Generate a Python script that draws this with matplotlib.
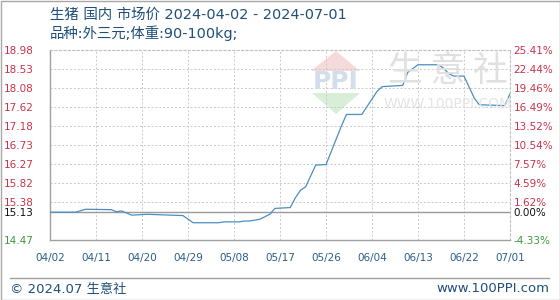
import matplotlib
matplotlib.use("Agg")
import matplotlib.pyplot as plt
from matplotlib.patches import Polygon, Rectangle
from matplotlib.lines import Line2D
import pandas as pd

# ---------------- data ----------------
dates = ["2024-04-02", "2024-04-07", "2024-04-09", "2024-04-14", "2024-04-15",
         "2024-04-16", "2024-04-18", "2024-04-21", "2024-04-28", "2024-04-30",
         "2024-05-05", "2024-05-06", "2024-05-09", "2024-05-10", "2024-05-11",
         "2024-05-13", "2024-05-15", "2024-05-16", "2024-05-19", "2024-05-20",
         "2024-05-21", "2024-05-22", "2024-05-24", "2024-05-26", "2024-05-29",
         "2024-05-30", "2024-06-02", "2024-06-05", "2024-06-06", "2024-06-10",
         "2024-06-11", "2024-06-13", "2024-06-17", "2024-06-18", "2024-06-19",
         "2024-06-20", "2024-06-22", "2024-06-24", "2024-06-25", "2024-06-30",
         "2024-07-01"]
prices = [15.13, 15.13, 15.20, 15.19, 15.14,
          15.16, 15.06, 15.08, 15.05, 14.88,
          14.88, 14.90, 14.90, 14.92, 14.92,
          14.96, 15.08, 15.22, 15.24, 15.47,
          15.65, 15.73, 16.25, 16.26, 17.17,
          17.45, 17.45, 18.00, 18.11, 18.14,
          18.45, 18.63, 18.63, 18.55, 18.42,
          18.36, 18.36, 17.84, 17.68, 17.66,
          17.94]

ytick_vals = [18.98, 18.53, 18.08, 17.62, 17.18, 16.73, 16.27, 15.82, 15.38, 15.13, 14.47]
pct_labels = ["25.41%", "22.44%", "19.46%", "16.49%", "13.52%", "10.54%",
              "7.57%", "4.59%", "1.62%", "0.00%", "-4.33%"]
xtick_labels = ["04/02", "04/11", "04/20", "04/29", "05/08", "05/17",
                "05/26", "06/04", "06/13", "06/22", "07/01"]
base_price = 15.13
title_line1 = "生猪 国内 市场价 2024-04-02 - 2024-07-01"
title_line2 = "品种:外三元;体重:90-100kg;"
footer_left = "© 2024.07 生意社"
footer_right = "www.100PPI.com"

# ---------------- figure ----------------
W, H = 560, 300
fig = plt.figure(figsize=(W / 100, H / 100), dpi=100)
fig.patch.set_facecolor("white")

def px(x, y):
    return (x / W, 1 - y / H)

L, R, T, B = 50, 510, 50, 240
ax = fig.add_axes([L / W, 1 - B / H, (R - L) / W, (B - T) / H])
ax.set_facecolor("none")

# watermark (behind)
wm_grey = "#e0e0e0"
fig.add_artist(Polygon([px(336, 51), px(311, 71), px(360, 71)], closed=True,
                       transform=fig.transFigure, facecolor="#f6dada", edgecolor="none", zorder=0))
fig.add_artist(Polygon([px(312, 93), px(360, 93), px(336, 114)], closed=True,
                       transform=fig.transFigure, facecolor="#d9eed9", edgecolor="none", zorder=0))
fig.text(*px(336, 82), "PPI", fontsize=18, fontweight="bold", color="#d3deeb",
         ha="center", va="center", zorder=0, family="DejaVu Sans")
fig.text(*px(448, 72), "生 意 社", fontsize=25, color=wm_grey, ha="center", va="center",
         zorder=0, family=["Noto Sans CJK SC", "DejaVu Sans"])
fig.text(*px(448, 104), "WWW.100PPI.COM", fontsize=10, color="#e4e4e4", ha="center",
         va="center", zorder=0, family="DejaVu Sans")

x = pd.to_datetime(dates)
ax.plot(x, prices, color="#4a8fbf", linewidth=0.9, zorder=3)

ax.set_xlim(pd.Timestamp("2024-04-02"), pd.Timestamp("2024-07-01"))
ax.set_ylim(14.47, 18.98)

# x ticks
xt = pd.date_range("2024-04-02", "2024-07-01", freq="9D")
ax.set_xticks(xt)
ax.set_xticklabels(xtick_labels)
ax.tick_params(axis="x", length=0, pad=9, labelsize=7.5, labelcolor="#2b5c8a")

# y ticks
ax.set_yticks(ytick_vals)
ax.set_yticklabels([f"{v:.2f}" for v in ytick_vals])
ax.tick_params(axis="y", length=0, pad=11.5, labelsize=7.5)

def colour_for(v):
    if v > base_price:
        return "#c8324a"
    if v < base_price:
        return "#3c9a3c"
    return "#111111"

for lbl, v in zip(ax.get_yticklabels(), ytick_vals):
    lbl.set_color(colour_for(v))
for lbl in ax.get_xticklabels() + ax.get_yticklabels():
    lbl.set_family("DejaVu Sans")

# grid
for v in ytick_vals:
    if v == base_price:
        ax.axhline(v, color="#9a9a9a", linewidth=1.0, zorder=2)
    elif v not in (18.98, 14.47):
        ax.axhline(v, color="#c8c8c8", linewidth=0.7, linestyle=(0, (2, 2)), zorder=1)
for t in xt[1:]:
    ax.axvline(t, color="#c8c8c8", linewidth=0.7, linestyle=(0, (2, 2)), zorder=1)

for s in ["top", "right"]:
    ax.spines[s].set_color("#c0c0c0")
    ax.spines[s].set_linestyle((0, (2, 2)))
    ax.spines[s].set_linewidth(0.8)
for s in ["left", "bottom"]:
    ax.spines[s].set_color("#a0a0a0")
    ax.spines[s].set_linewidth(1.0)

# right axis
ax2 = ax.twinx()
ax2.set_ylim(ax.get_ylim())
ax2.set_yticks(ytick_vals)
ax2.set_yticklabels(pct_labels)
ax2.tick_params(axis="y", length=0, pad=2.5, labelsize=7.5)
for s in ax2.spines.values():
    s.set_visible(False)
for lbl, v in zip(ax2.get_yticklabels(), ytick_vals):
    lbl.set_family("DejaVu Sans")
    lbl.set_color(colour_for(v))

# titles
mixed = ["DejaVu Sans", "Noto Sans CJK SC"]
fig.text(*px(50, 15), title_line1, fontsize=10.4, color="#1f4f7a", ha="left", va="center", family=mixed)
fig.text(*px(50, 33), title_line2, fontsize=10.4, color="#1f4f7a", ha="left", va="center", family=mixed)

# footer
fig.add_artist(Line2D([10 / W, 549 / W], [1 - 277.5 / H] * 2, transform=fig.transFigure,
                      color="#a0a0a0", linewidth=1.0))
fig.text(*px(10, 289), footer_left, fontsize=9.5, color="#1f4f7a", ha="left", va="center", family=mixed)
fig.text(*px(549, 289), footer_right, fontsize=9.5, color="#1f4f7a", ha="right", va="center", family=mixed)

# outer border
fig.add_artist(Rectangle((0.5 / W, 0.5 / H), (W - 1) / W, (H - 1) / H, transform=fig.transFigure,
                         fill=False, edgecolor="#a8a8a8", linewidth=1.0))

fig.savefig("out.png", dpi=100)
